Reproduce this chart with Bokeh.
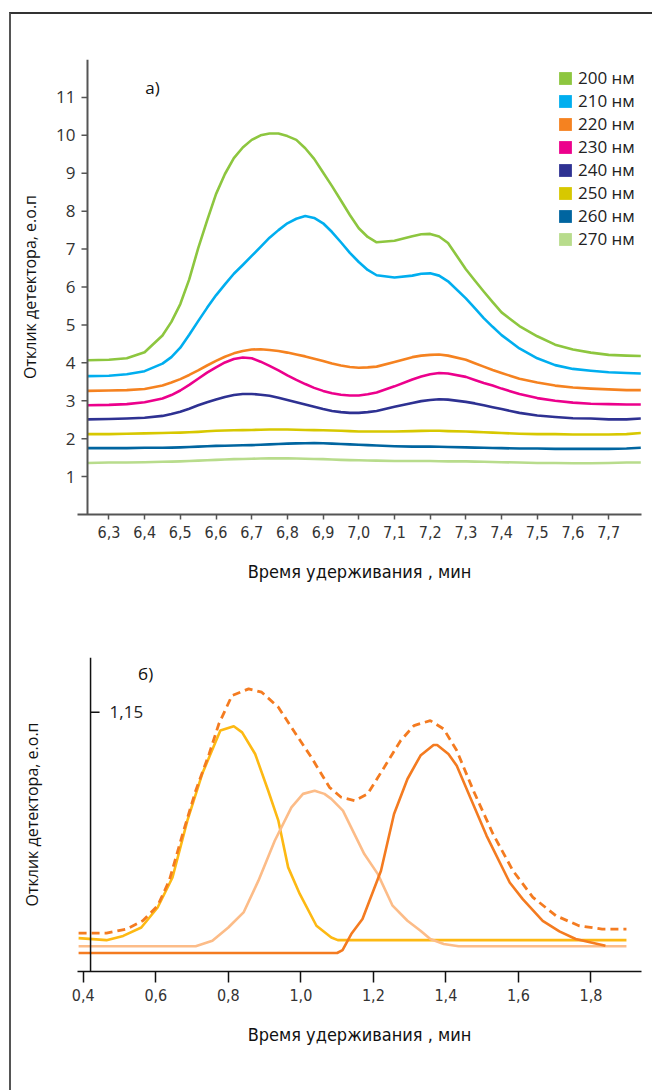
import math
from bokeh.plotting import figure
from bokeh.models import Range1d, FixedTicker, Label, Legend, LegendItem, Span
from bokeh.layouts import column
from bokeh.embed import file_html
from bokeh.resources import INLINE
from bokeh.core.properties import value

# ---------------- data: chart a) ----------------
t_a = [6.24, 6.30, 6.35, 6.40, 6.45, 6.475, 6.50, 6.525, 6.55, 6.575,
       6.60, 6.625, 6.65, 6.675, 6.70, 6.725, 6.75, 6.775, 6.80, 6.825,
       6.85, 6.875, 6.90, 6.925, 6.95, 6.975, 7.00, 7.025, 7.05, 7.10,
       7.15, 7.175, 7.20, 7.225, 7.25, 7.30, 7.325, 7.35, 7.375, 7.40,
       7.45, 7.50, 7.55, 7.60, 7.65, 7.70, 7.75, 7.79]
s200 = [4.07, 4.08, 4.12, 4.28, 4.72, 5.08, 5.55, 6.20, 7.02, 7.75,
        8.45, 8.98, 9.40, 9.68, 9.88, 10.00, 10.05, 10.05, 9.98, 9.88,
        9.66, 9.38, 9.02, 8.66, 8.28, 7.90, 7.55, 7.32, 7.18, 7.22,
        7.34, 7.39, 7.40, 7.33, 7.16, 6.47, 6.17, 5.88, 5.60, 5.33,
        4.97, 4.70, 4.48, 4.35, 4.27, 4.21, 4.19, 4.18]
s210 = [3.65, 3.66, 3.70, 3.78, 3.98, 4.15, 4.40, 4.74, 5.10, 5.45,
        5.78, 6.07, 6.35, 6.58, 6.82, 7.06, 7.30, 7.50, 7.68, 7.80,
        7.87, 7.82, 7.68, 7.45, 7.18, 6.90, 6.66, 6.45, 6.31, 6.25,
        6.30, 6.35, 6.36, 6.30, 6.15, 5.70, 5.44, 5.18, 4.95, 4.73,
        4.38, 4.12, 3.94, 3.84, 3.79, 3.75, 3.73, 3.72]
s220 = [3.26, 3.27, 3.28, 3.31, 3.40, 3.48, 3.57, 3.68, 3.80, 3.93,
        4.05, 4.16, 4.25, 4.31, 4.35, 4.36, 4.34, 4.31, 4.27, 4.22,
        4.17, 4.11, 4.05, 3.98, 3.93, 3.89, 3.87, 3.88, 3.90, 4.02,
        4.15, 4.19, 4.21, 4.22, 4.19, 4.08, 3.99, 3.90, 3.81, 3.73,
        3.58, 3.48, 3.40, 3.35, 3.32, 3.30, 3.28, 3.28]
s230 = [2.88, 2.89, 2.91, 2.96, 3.06, 3.15, 3.27, 3.42, 3.58, 3.74,
        3.88, 4.01, 4.10, 4.14, 4.12, 4.03, 3.92, 3.80, 3.67, 3.55,
        3.44, 3.34, 3.26, 3.20, 3.16, 3.14, 3.14, 3.17, 3.22, 3.38,
        3.56, 3.64, 3.70, 3.73, 3.72, 3.63, 3.55, 3.47, 3.40, 3.32,
        3.18, 3.07, 3.00, 2.95, 2.92, 2.91, 2.90, 2.90]
s240 = [2.51, 2.52, 2.53, 2.55, 2.60, 2.65, 2.71, 2.79, 2.88, 2.96,
        3.03, 3.10, 3.15, 3.18, 3.18, 3.16, 3.13, 3.08, 3.02, 2.96,
        2.90, 2.84, 2.78, 2.73, 2.70, 2.68, 2.68, 2.70, 2.73, 2.84,
        2.94, 2.99, 3.02, 3.04, 3.03, 2.97, 2.93, 2.88, 2.83, 2.78,
        2.68, 2.61, 2.57, 2.54, 2.53, 2.51, 2.51, 2.53]
s250 = [2.12, 2.12, 2.13, 2.14, 2.15, 2.155, 2.16, 2.17, 2.18, 2.195,
        2.21, 2.215, 2.22, 2.225, 2.23, 2.235, 2.24, 2.24, 2.24, 2.235,
        2.23, 2.225, 2.22, 2.215, 2.21, 2.20, 2.19, 2.19, 2.19, 2.19,
        2.20, 2.205, 2.21, 2.21, 2.20, 2.19, 2.18, 2.17, 2.16, 2.15,
        2.13, 2.12, 2.12, 2.11, 2.11, 2.11, 2.12, 2.15]
s260 = [1.75, 1.75, 1.75, 1.76, 1.76, 1.765, 1.77, 1.78, 1.79, 1.80,
        1.81, 1.815, 1.82, 1.825, 1.83, 1.84, 1.85, 1.86, 1.87, 1.875,
        1.88, 1.885, 1.88, 1.87, 1.86, 1.85, 1.84, 1.83, 1.82, 1.80,
        1.79, 1.79, 1.79, 1.785, 1.78, 1.77, 1.765, 1.76, 1.755, 1.75,
        1.74, 1.74, 1.73, 1.73, 1.73, 1.73, 1.74, 1.76]
s270 = [1.36, 1.37, 1.37, 1.38, 1.39, 1.395, 1.40, 1.41, 1.42, 1.43,
        1.44, 1.45, 1.46, 1.465, 1.47, 1.475, 1.48, 1.48, 1.48, 1.475,
        1.47, 1.465, 1.46, 1.45, 1.44, 1.435, 1.43, 1.425, 1.42, 1.41,
        1.41, 1.41, 1.41, 1.405, 1.40, 1.40, 1.395, 1.39, 1.385, 1.38,
        1.37, 1.36, 1.36, 1.35, 1.35, 1.36, 1.37, 1.37]
series_a = [s200, s210, s220, s230, s240, s250, s260, s270]
names_a = ["200 нм", "210 нм", "220 нм", "230 нм", "240 нм", "250 нм", "260 нм", "270 нм"]
colors_a = ["#8dc63f", "#00aeef", "#f58220", "#ec008c", "#2e3192", "#d7c800", "#0065a0", "#b8dc8c"]
xticks_a = [6.3, 6.4, 6.5, 6.6, 6.7, 6.8, 6.9, 7.0, 7.1, 7.2, 7.3, 7.4, 7.5, 7.6, 7.7]
xlabels_a = ["6,3", "6,4", "6,5", "6,6", "6,7", "6,8", "6,9", "7,0", "7,1", "7,2", "7,3", "7,4", "7,5", "7,6", "7,7"]
yticks_a = [1, 2, 3, 4, 5, 6, 7, 8, 9, 10, 11]

# ---------------- data: chart б) ----------------
yel_x = [0.387, 0.464, 0.51, 0.56, 0.605, 0.646, 0.687, 0.728, 0.778, 0.815, 0.838, 0.874,
         0.91, 0.938, 0.965, 0.997, 1.043, 1.084, 1.102, 1.898]
yel_y = [0.148, 0.139, 0.158, 0.195, 0.284, 0.417, 0.669, 0.877, 1.069, 1.088, 1.061, 0.965,
         0.802, 0.669, 0.462, 0.344, 0.203, 0.151, 0.139, 0.139]
pch_x = [0.387, 0.71, 0.756, 0.80, 0.842, 0.883, 0.928, 0.974, 1.006, 1.038, 1.065, 1.084,
         1.116, 1.175, 1.212, 1.253, 1.294, 1.33, 1.357, 1.394, 1.435, 1.898]
pch_y = [0.112, 0.112, 0.136, 0.195, 0.262, 0.403, 0.58, 0.728, 0.788, 0.802, 0.788, 0.766,
         0.714, 0.521, 0.433, 0.292, 0.225, 0.181, 0.144, 0.122, 0.112, 0.112]
org_x = [0.387, 1.10, 1.115, 1.139, 1.17, 1.221, 1.257, 1.294, 1.33, 1.366, 1.376, 1.407,
         1.43, 1.467, 1.512, 1.576, 1.612, 1.667, 1.713, 1.758, 1.84]
org_y = [0.082, 0.082, 0.095, 0.166, 0.233, 0.447, 0.699, 0.854, 0.958, 1.005, 1.005, 0.965,
         0.913, 0.773, 0.603, 0.395, 0.321, 0.225, 0.178, 0.144, 0.114]
sum_x = [0.387, 0.464, 0.519, 0.564, 0.605, 0.637, 0.674, 0.71, 0.747, 0.774, 0.81, 0.856,
         0.892, 0.938, 0.983, 1.029, 1.079, 1.111, 1.148, 1.184, 1.23, 1.275, 1.312, 1.357,
         1.394, 1.43, 1.476, 1.53, 1.585, 1.64, 1.704, 1.767, 1.831, 1.898]
sum_y = [0.17, 0.17, 0.188, 0.225, 0.292, 0.403, 0.61, 0.802, 0.965, 1.099, 1.224, 1.254,
         1.239, 1.172, 1.061, 0.95, 0.817, 0.773, 0.758, 0.788, 0.906, 1.024, 1.091, 1.113,
         1.076, 0.98, 0.802, 0.61, 0.447, 0.329, 0.247, 0.203, 0.188, 0.188]
xticks_b = [0.4, 0.6, 0.8, 1.0, 1.2, 1.4, 1.6, 1.8]
xlabels_b = ["0,4", "0,6", "0,8", "1,0", "1,2", "1,4", "1,6", "1,8"]
yticks_b = [1.15]
ylabels_b = ["1,15"]

XTITLE = "Время удерживания , мин"
YTITLE = "Отклик детектора, е.о.п"
NARROW = "'DejaVu Sans Condensed', Roboto, sans-serif"
SANS = "Open Sans"

# ---------------- figure a) ----------------
YAX_A = 6.24
p1 = figure(width=641, height=606, x_range=Range1d(6.212, 7.792), y_range=Range1d(0, 12),
            output_backend="svg", toolbar_location=None,
            min_border_left=66, min_border_right=11, min_border_top=45, min_border_bottom=106)
p1.outline_line_color = None
p1.grid.visible = False

for ys, c in zip(series_a, colors_a):
    p1.line(t_a, ys, line_color=c, line_width=2.6, line_join="round")

nan = float("nan")
items = []
for n, c in zip(names_a, colors_a):
    r = p1.quad(left=[nan], right=[nan], top=[nan], bottom=[nan], fill_color=c, line_color=None)
    items.append(LegendItem(label=n, renderers=[r]))
leg = Legend(items=items, location=(480, 264), glyph_width=16, glyph_height=16,
             label_height=16, spacing=0, padding=0, margin=0, label_standoff=5,
             border_line_color=None, background_fill_alpha=0,
             label_text_font=SANS, label_text_font_size="17px", label_text_color="#222222")
p1.add_layout(leg)

# y axis line and its ticks
p1.add_layout(Span(location=YAX_A, dimension="height", line_color="#555555", line_width=2))
p1.ray(x=[YAX_A] * len(yticks_a), y=yticks_a, length=6, length_units="screen",
       angle=math.pi, line_color="#555555", line_width=1.5)

p1.xaxis.ticker = FixedTicker(ticks=xticks_a)
p1.xaxis.major_label_overrides = dict(zip(xticks_a, xlabels_a))
p1.xaxis.minor_tick_line_color = None
p1.xaxis.major_tick_out = 5
p1.xaxis.major_tick_in = 0
p1.xaxis.axis_line_width = 2
p1.xaxis.axis_line_color = "#555555"
p1.xaxis.major_tick_line_color = "#555555"
p1.xaxis.major_tick_line_width = 1.5
p1.xaxis.major_label_text_font = NARROW
p1.xaxis.major_label_text_font_size = "16px"
p1.xaxis.major_label_text_color = "#333333"
p1.xaxis.major_label_standoff = 6
p1.xaxis.axis_label = XTITLE
p1.xaxis.axis_label_text_font = NARROW
p1.xaxis.axis_label_text_font_size = "18px"
p1.xaxis.axis_label_text_font_style = "normal"
p1.xaxis.axis_label_text_color = "#111111"
p1.xaxis.axis_label_standoff = 20

p1.yaxis.ticker = FixedTicker(ticks=yticks_a)
p1.yaxis.minor_tick_line_color = None
p1.yaxis.major_tick_line_color = None
p1.yaxis.axis_line_color = None
p1.yaxis.major_tick_out = 0
p1.yaxis.major_tick_in = 0
p1.yaxis.major_label_text_font = SANS
p1.yaxis.major_label_text_font_size = "17px"
p1.yaxis.major_label_text_color = "#333333"
p1.yaxis.major_label_standoff = 2
p1.yaxis.axis_label = YTITLE
p1.yaxis.axis_label_text_font = SANS
p1.yaxis.axis_label_text_font_size = "16px"
p1.yaxis.axis_label_text_font_style = "normal"
p1.yaxis.axis_label_text_color = "#111111"
p1.yaxis.axis_label_standoff = 12

p1.add_layout(Label(x=6.402, y=11.27, text="а)", text_font=SANS, text_font_size="17px",
                    text_baseline="middle", text_color="#111111"))

# ---------------- figure б) ----------------
YAX_B = 0.42
p2 = figure(width=641, height=470, x_range=Range1d(0.384, 1.9395), y_range=Range1d(0, 1.393),
            output_backend="svg", toolbar_location=None,
            min_border_left=63, min_border_right=9, min_border_top=37, min_border_bottom=119)
p2.outline_line_color = None
p2.grid.visible = False

p2.line(yel_x, yel_y, line_color="#fdb913", line_width=2.6)
p2.line(pch_x, pch_y, line_color="#fcbc88", line_width=2.6)
p2.line(org_x, org_y, line_color="#f47b20", line_width=2.6)
p2.line(sum_x, sum_y, line_color="#f47b20", line_width=2.8, line_dash="8 5")

p2.add_layout(Span(location=YAX_B, dimension="height", line_color="#111111", line_width=1.5))
p2.ray(x=[YAX_B] * len(yticks_b), y=yticks_b, length=9, length_units="screen",
       angle=0, line_color="#111111", line_width=1.5)
p2.text(x=[YAX_B] * len(yticks_b), y=yticks_b, text=ylabels_b, x_offset=19,
        text_baseline="middle", text_align="left", text_font_size="17px",
        text_font=value(SANS), text_color="#222222")

p2.xaxis.ticker = FixedTicker(ticks=xticks_b)
p2.xaxis.major_label_overrides = dict(zip(xticks_b, xlabels_b))
p2.xaxis.minor_tick_line_color = None
p2.xaxis.major_tick_out = 11
p2.xaxis.major_tick_in = 0
p2.xaxis.axis_line_width = 1.5
p2.xaxis.axis_line_color = "#111111"
p2.xaxis.major_tick_line_color = "#111111"
p2.xaxis.major_tick_line_width = 1.5
p2.xaxis.major_label_text_font = NARROW
p2.xaxis.major_label_text_font_size = "16px"
p2.xaxis.major_label_text_color = "#333333"
p2.xaxis.major_label_standoff = 6
p2.xaxis.axis_label = XTITLE
p2.xaxis.axis_label_text_font = NARROW
p2.xaxis.axis_label_text_font_size = "18px"
p2.xaxis.axis_label_text_font_style = "normal"
p2.xaxis.axis_label_text_color = "#111111"
p2.xaxis.axis_label_standoff = 20

p2.yaxis.ticker = FixedTicker(ticks=[])
p2.yaxis.minor_tick_line_color = None
p2.yaxis.major_tick_line_color = None
p2.yaxis.axis_line_color = None
p2.yaxis.major_tick_out = 0
p2.yaxis.major_tick_in = 0
p2.yaxis.axis_label = YTITLE
p2.yaxis.axis_label_text_font = SANS
p2.yaxis.axis_label_text_font_size = "16px"
p2.yaxis.axis_label_text_font_style = "normal"
p2.yaxis.axis_label_text_color = "#111111"
p2.yaxis.axis_label_standoff = 35

p2.add_layout(Label(x=0.551, y=1.322, text="б)", text_font=SANS, text_font_size="17px",
                    text_baseline="middle", text_color="#111111"))

layout = column(p1, p2, margin=(12, 0, 0, 9),
                styles={"border-top": "2px solid #333333", "border-left": "2px solid #555555"})

open("out.html", "w").write(file_html(layout, INLINE))
